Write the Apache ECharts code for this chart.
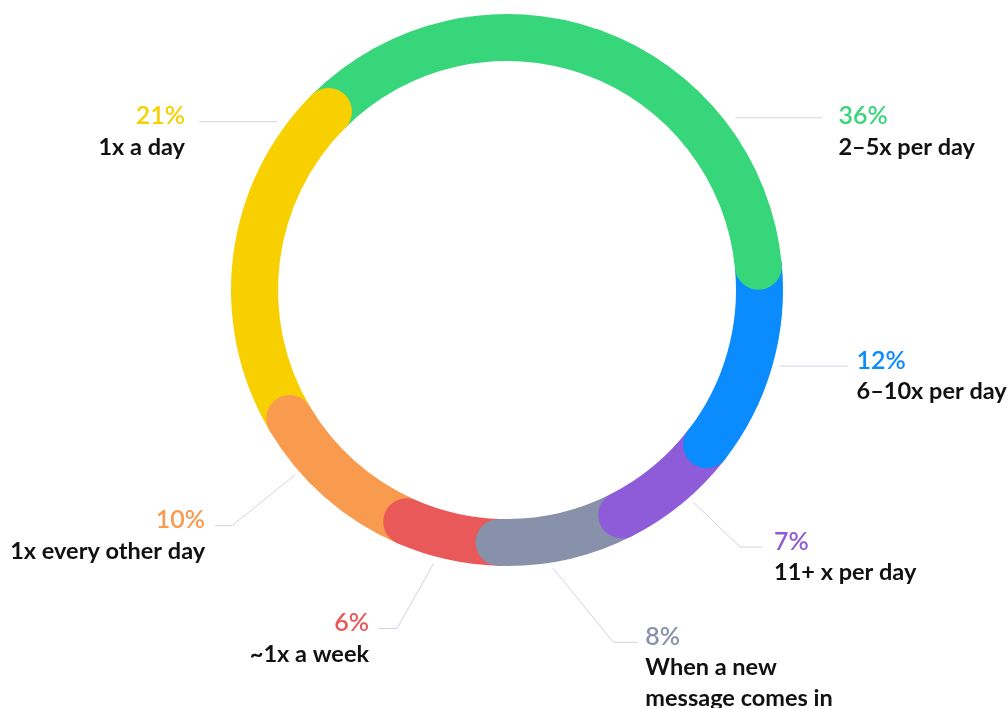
<!DOCTYPE html>
<html>
<head>
<meta charset="utf-8">
<script src="https://cdn.jsdelivr.net/npm/echarts@6/dist/echarts.min.js"></script>
<style>
  html, body { margin: 0; padding: 0; background: #fff; }
  #chart { width: 1008px; height: 708px; }
</style>
</head>
<body>
<div id="chart"></div>
<script>
// answers, clockwise from the top-left
const categories = ['2–5x per day', '6–10x per day', '11+ x per day', 'When a new\nmessage comes in', '~1x a week', '1x every other day', '1x a day'];
const percents = [36, 12, 7, 8, 6, 10, 21];
const colors = ['#38D67A', '#0A8CFF', '#8E5CD9', '#8791A9', '#EA5959', '#F99B4F', '#F8D000'];

// leader lines: [angle1, r1, angle2, r2, horizontal length, text gap, text dy] (angles clockwise from top)
const guides = [
  [53.0, 286, 53.0, 286, 87, 16, 4],
  [105.6, 283, 105.6, 283, 68, 9, 0],
  [138.7, 283, 137.8, 347, 22, 12, 0],
  [170.6, 282, 163.2, 368, 24, 8, 0],
  [195.0, 283, 198.0, 356, 19, 9, 0],
  [228.9, 281, 229.4, 362, 17, 10, 0],
  [306.2, 285, 306.2, 285, 78, 14, 0]
];

const cx = 507, cy = 290;
const r0 = 229, r1 = 276;

function pt(angle, r) {
  const a = angle * Math.PI / 180;
  return [cx + r * Math.sin(a), cy - r * Math.cos(a)];
}

function ringBar(v, color, z) {
  return {
    type: 'bar',
    coordinateSystem: 'polar',
    stack: 'ring',
    roundCap: true,
    barWidth: '100%',
    data: [v],
    itemStyle: { color: color },
    z: z,
    silent: true
  };
}

// each segment's round end sits over the next one; the first segment is split
// so the last (yellow) one can sit over its start
const series = [];
series.push(ringBar(percents[0] / 2, colors[0], 1));
series.push(ringBar(percents[0] / 2, colors[0], 20));
for (let i = 1; i < percents.length; i++) {
  series.push(ringBar(percents[i], colors[i], 20 - i));
}

const rich = {
  n: { fontFamily: 'Lato', fontSize: 23.5, fontWeight: 'bold', color: '#111', lineHeight: 31 }
};
colors.forEach((c, i) => {
  rich['p' + i] = { fontFamily: 'Lato', fontSize: 25, fontWeight: 600, color: c, lineHeight: 31 };
});

series.push({
  type: 'pie',
  center: [cx, cy],
  radius: [r0, r1],
  startAngle: 135,
  clockwise: true,
  silent: true,
  avoidLabelOverlap: false,
  z: 0,
  itemStyle: { color: 'rgba(0,0,0,0)' },
  label: {
    show: true,
    position: 'outside',
    formatter: (p) => ['{p' + p.dataIndex + '|' + p.value + '%}']
      .concat(p.name.split('\n').map(s => '{n|' + s + '}')).join('\n'),
    rich: rich
  },
  labelLine: { show: true, lineStyle: { color: '#D2D2E2', width: 1 } },
  labelLayout: function (params) {
    const g = guides[params.dataIndex];
    const side = g[0] < 180 ? 1 : -1;
    const p1 = pt(g[0], g[1]);
    const p2 = pt(g[2], g[3]);
    const p3 = [p2[0] + side * g[4], p2[1]];
    return {
      x: p3[0] + side * g[5],
      y: p3[1] - 21 + g[6],
      align: side > 0 ? 'left' : 'right',
      verticalAlign: 'top',
      labelLinePoints: [p1, p2, p3]
    };
  },
  data: categories.map((c, i) => ({ name: c, value: percents[i] }))
});

const chart = echarts.init(document.getElementById('chart'));
chart.setOption({
  animation: false,
  polar: { center: [cx, cy], radius: [r0, r1] },
  angleAxis: { type: 'value', min: 0, max: 100, startAngle: 135, clockwise: true, show: false },
  radiusAxis: { type: 'category', data: ['ring'], show: false },
  series: series
});
</script>
</body>
</html>
